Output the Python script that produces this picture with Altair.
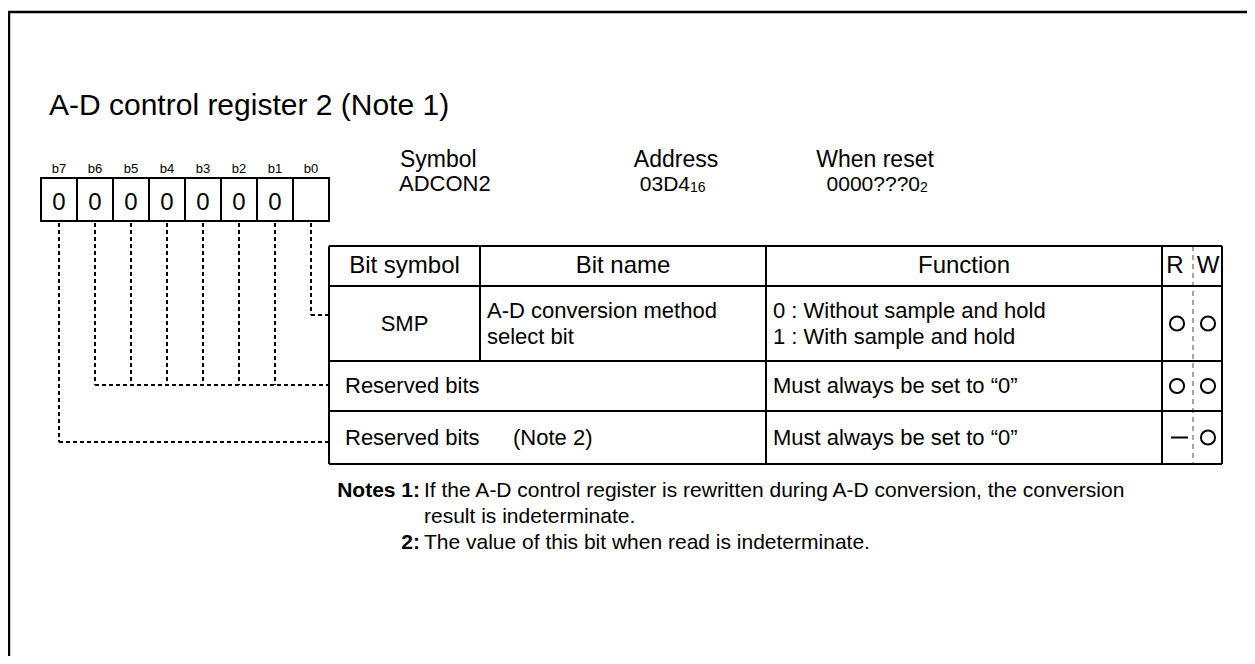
import altair as alt
import pandas as pd

# ---------------- data (text content) ----------------
TITLE = "A-D control register 2 (Note 1)"
BIT_NAMES = ["b7", "b6", "b5", "b4", "b3", "b2", "b1", "b0"]
BIT_VALUES = ["0", "0", "0", "0", "0", "0", "0", ""]
INFO_LABELS = ["Symbol", "Address", "When reset"]
INFO_VALUES = ["ADCON2", "03D4", "0000???0"]
INFO_SUBSCRIPTS = ["", "16", "2"]
COLUMN_HEADERS = ["Bit symbol", "Bit name", "Function", "R", "W"]
ROW_SYMBOLS = ["SMP", "Reserved bits", "Reserved bits"]
ROW_NAMES = [["A-D conversion method", "select bit"], [], ["(Note 2)"]]
ROW_FUNCTIONS = [["0 : Without sample and hold", "1 : With sample and hold"],
                 ["Must always be set to \u201c0\u201d"],
                 ["Must always be set to \u201c0\u201d"]]
ROW_READ = ["O", "O", "-"]
ROW_WRITE = ["O", "O", "O"]
ROW_BITS = [["b0"], ["b6", "b5", "b4", "b3", "b2", "b1"], ["b7"]]
NOTE_LABELS = ["Notes 1:", "2:"]
NOTE_TEXTS = [["If the A-D control register is rewritten during A-D conversion, the conversion",
               "result is indeterminate."],
              ["The value of this bit when read is indeterminate."]]

# ---------------- layout ----------------
FONT = "Liberation Sans"
W, H = 1239, 648
XD = [8, 8 + W]
YD = [8, 8 + H]
BOX_LEFT, BOX_W, BOX_TOP, BOX_BOTTOM = 41, 36, 178, 221
COL = [329, 480, 766, 1162, 1222]
RW_DIV = 1193
ROW = [246, 286, 361, 411, 464]
MERGED = [False, True, True]
CONN_Y = [315, 385, 442]
R_X, W_X = 1177, 1208
TITLE_SIZE, BIT_SIZE, DIGIT_SIZE = 30, 13, 24
INFO_LABEL_SIZE, INFO_VALUE_SIZE, SUB_SIZE = 23, 21, 14
HEAD_SIZE, BODY_SIZE, NOTE_SIZE = 24, 22, 21

X = lambda f="x": alt.X(f"{f}:Q", scale=alt.Scale(domain=XD, nice=False, zero=False), axis=None)
Y = lambda f="y": alt.Y(f"{f}:Q", scale=alt.Scale(domain=YD, nice=False, zero=False, reverse=True), axis=None)

texts = []
def T(x, y, text, size, align="left", weight="normal", baseline="alphabetic"):
    texts.append(dict(x=x, y=y, text=text, size=size, align=align, weight=weight, baseline=baseline))

segs = []   # solid black lines
def S(x, y, x2, y2, w=2):
    segs.append(dict(x=x, y=y, x2=x2, y2=y2, w=w))

dsegs = []  # dashed connector lines
def D(x, y, x2, y2):
    dsegs.append(dict(x=x, y=y, x2=x2, y2=y2))

# frame
S(XD[0], 12, XD[1], 12, 2.5)
S(9, 12, 9, YD[1], 2.5)

# title
T(49, 115, TITLE, TITLE_SIZE)

# bit boxes
boxes = []
centers = {}
for i, (b, v) in enumerate(zip(BIT_NAMES, BIT_VALUES)):
    x0 = BOX_LEFT + i * BOX_W
    cx = x0 + BOX_W / 2
    centers[b] = cx
    boxes.append(dict(x=x0, x2=x0 + BOX_W, y=BOX_TOP, y2=BOX_BOTTOM))
    T(cx, 173, b, BIT_SIZE, align="center")
    if v:
        T(cx, 210, v, DIGIT_SIZE, align="center")

# info
T(400, 167, INFO_LABELS[0], INFO_LABEL_SIZE, align="left")
T(676, 167, INFO_LABELS[1], INFO_LABEL_SIZE, align="center")
T(875, 167, INFO_LABELS[2], INFO_LABEL_SIZE, align="center")
T(399, 191, INFO_VALUES[0], INFO_VALUE_SIZE + 1, align="left")
for val, sub, sp in zip(INFO_VALUES[1:], INFO_SUBSCRIPTS[1:], [690, 920]):
    T(sp, 191, val, INFO_VALUE_SIZE, align="right")
    T(sp, 192, sub, SUB_SIZE, align="left")

# table grid
S(COL[0], ROW[0], COL[-1], ROW[0])
S(COL[0], ROW[-1], COL[-1], ROW[-1])
for r in ROW[1:-1]:
    S(COL[0], r, COL[-1], r)
S(COL[0], ROW[0], COL[0], ROW[-1])
S(COL[-1], ROW[0], COL[-1], ROW[-1])
S(COL[2], ROW[0], COL[2], ROW[-1])
S(COL[3], ROW[0], COL[3], ROW[-1])
S(COL[1], ROW[0], COL[1], ROW[1])
for i, m in enumerate(MERGED):
    if not m:
        S(COL[1], ROW[i + 1], COL[1], ROW[i + 2])

# header texts
hy = (ROW[0] + ROW[1]) / 2
T((COL[0] + COL[1]) / 2, hy, COLUMN_HEADERS[0], HEAD_SIZE, "center", baseline="middle")
T((COL[1] + COL[2]) / 2, hy, COLUMN_HEADERS[1], HEAD_SIZE, "center", baseline="middle")
T((COL[2] + COL[3]) / 2, hy, COLUMN_HEADERS[2], HEAD_SIZE, "center", baseline="middle")
T(R_X - 2, hy, COLUMN_HEADERS[3], HEAD_SIZE, "center", baseline="middle")
T(W_X, hy, COLUMN_HEADERS[4], HEAD_SIZE, "center", baseline="middle")

# rows
circles = []
for i in range(3):
    top, bot = ROW[i + 1], ROW[i + 2]
    cy = (top + bot) / 2
    if MERGED[i]:
        T(345, cy, ROW_SYMBOLS[i], BODY_SIZE, "left", baseline="middle")
        for nm in ROW_NAMES[i]:
            T(513, cy, nm, BODY_SIZE, "left", baseline="middle")
    else:
        T((COL[0] + COL[1]) / 2, cy, ROW_SYMBOLS[i], BODY_SIZE, "center", baseline="middle")
        n = len(ROW_NAMES[i])
        for j, nm in enumerate(ROW_NAMES[i]):
            T(487, cy + (j - (n - 1) / 2) * 26, nm, BODY_SIZE, "left", baseline="middle")
    n = len(ROW_FUNCTIONS[i])
    for j, fn in enumerate(ROW_FUNCTIONS[i]):
        T(773, cy + (j - (n - 1) / 2) * 26, fn, BODY_SIZE, "left", baseline="middle")
    for val, px in ((ROW_READ[i], R_X), (ROW_WRITE[i], W_X)):
        if val == "O":
            circles.append(dict(x=px, y=cy))
        else:
            S(px - 6, cy, px + 11, cy, 2)
    ys = CONN_Y[i]
    xs = [centers[b] for b in ROW_BITS[i]]
    for cx in xs:
        D(cx, 223, cx, ys)
    D(min(xs), ys, COL[0], ys)

# notes
NOTE_Y = [497, 549]
T(420, NOTE_Y[0], NOTE_LABELS[0], NOTE_SIZE, "right", weight="bold")
T(424, NOTE_Y[0], NOTE_TEXTS[0][0], NOTE_SIZE)
T(424, NOTE_Y[0] + 26, NOTE_TEXTS[0][1], NOTE_SIZE)
T(420, NOTE_Y[1], NOTE_LABELS[1], NOTE_SIZE, "right", weight="bold")
T(424, NOTE_Y[1], NOTE_TEXTS[1][0], NOTE_SIZE)

# ---------------- chart ----------------
seg_df = pd.DataFrame(segs)
dseg_df = pd.DataFrame(dsegs)
box_df = pd.DataFrame(boxes)
circ_df = pd.DataFrame(circles)
tdf = pd.DataFrame(texts)
rw_df = pd.DataFrame([dict(x=RW_DIV, y=ROW[0], x2=RW_DIV, y2=ROW[-1])])

layers = []
layers.append(alt.Chart(box_df).mark_rect(fill="white", stroke="black", strokeWidth=2).encode(
    x=X(), x2="x2:Q", y=Y(), y2="y2:Q"))
layers.append(alt.Chart(dseg_df).mark_rule(color="black", strokeWidth=2, strokeDash=[4, 3]).encode(
    x=X(), x2="x2:Q", y=Y(), y2="y2:Q"))
layers.append(alt.Chart(rw_df).mark_rule(color="#888888", strokeWidth=1.5, strokeDash=[5, 4]).encode(
    x=X(), x2="x2:Q", y=Y(), y2="y2:Q"))
layers.append(alt.Chart(seg_df).mark_rule(color="black").encode(
    x=X(), x2="x2:Q", y=Y(), y2="y2:Q", strokeWidth=alt.StrokeWidth("w:Q", scale=None)))
layers.append(alt.Chart(circ_df).mark_point(shape="circle", filled=False, color="black",
                                            strokeWidth=2, size=200, opacity=1).encode(x=X(), y=Y()))
for (a, w, b), g in tdf.groupby(["align", "weight", "baseline"]):
    layers.append(alt.Chart(g).mark_text(align=a, fontWeight=w, baseline=b, font=FONT, color="black").encode(
        x=X(), y=Y(), text="text:N", size=alt.Size("size:Q", scale=None)))

chart = alt.layer(*layers).properties(
    width=W, height=H, padding=0, autosize=alt.AutoSizeParams(type="none"),
    background="white"
).configure_view(stroke=None)

chart.save("out.html", embed_options={"renderer": "svg", "actions": False})
